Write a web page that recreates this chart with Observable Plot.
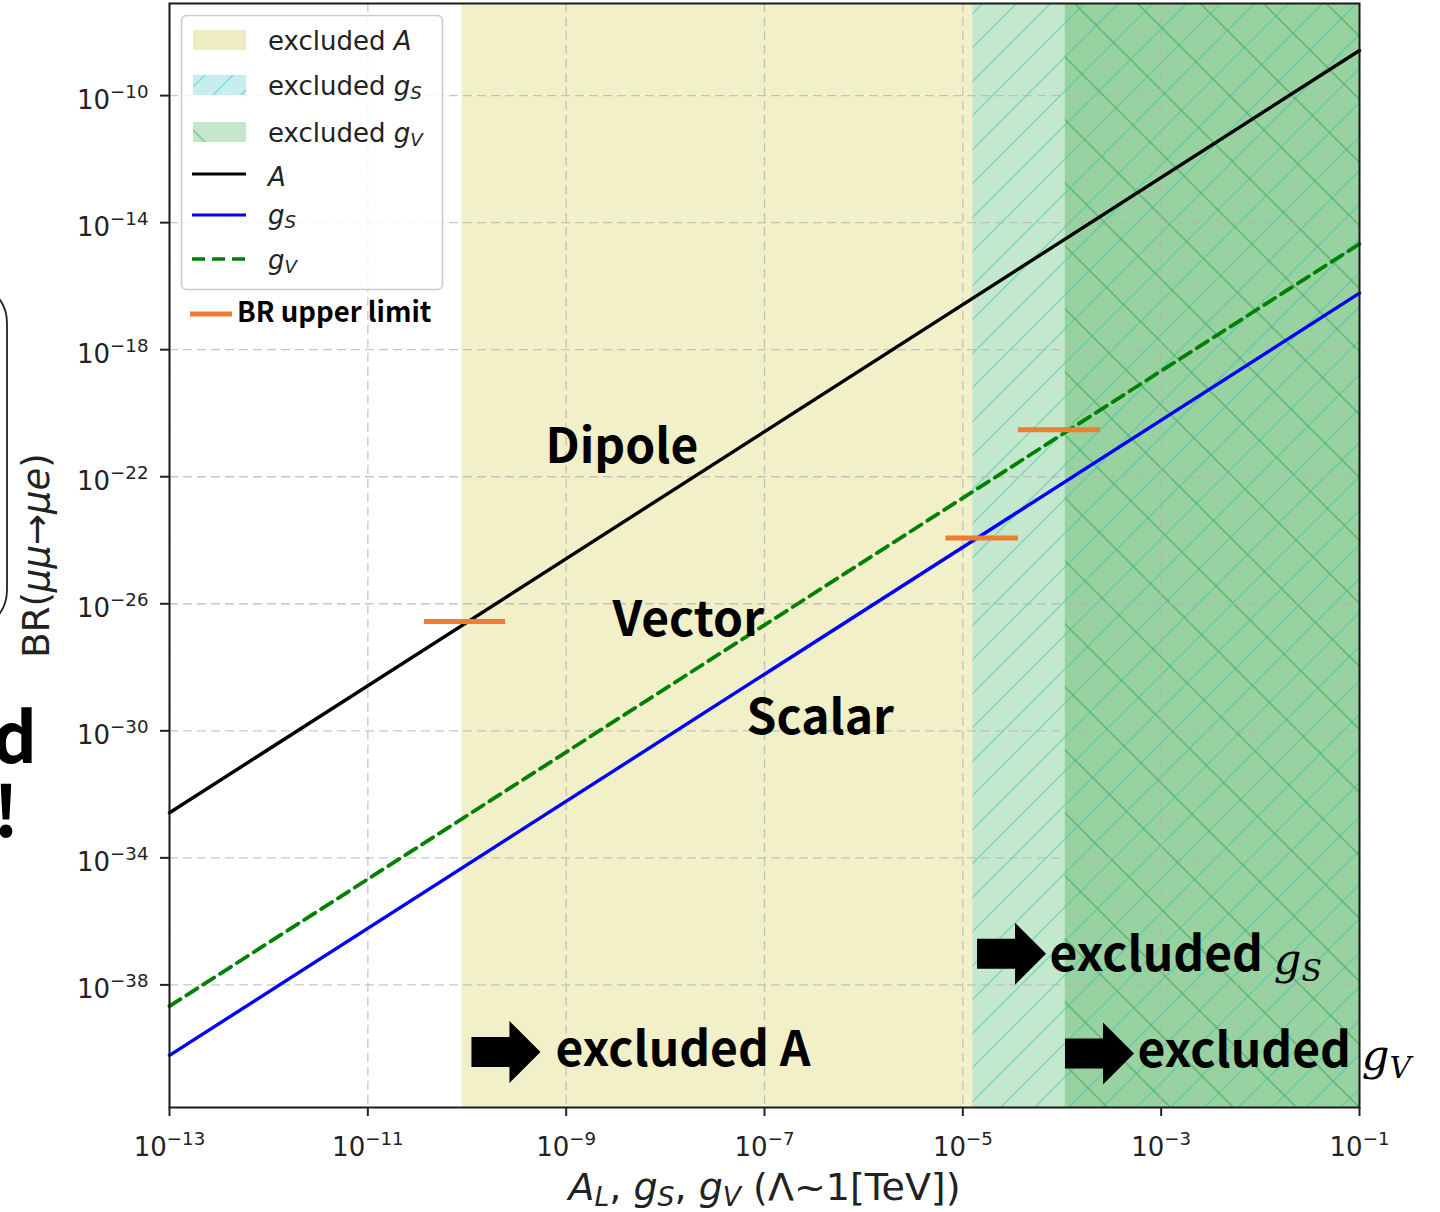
<!DOCTYPE html>
<html><head><meta charset="utf-8">
<script src="https://cdn.jsdelivr.net/npm/d3@7"></script>
<script src="https://cdn.jsdelivr.net/npm/@observablehq/plot@0.6"></script>
<style>
body{margin:0;background:#fff;}
#wrap{position:relative;width:1440px;height:1212px;overflow:hidden;background:#fff;}
#wrap > svg{position:absolute;left:0;top:0;}
</style></head><body><div id="wrap"></div>
<script>
// ---------------- data ----------------
const xEnds = [1e-13, 1e-1];
const brA  = [2.63e-33, 2.63e-9];
const brGS = [6.03e-41, 6.03e-17];
const brGV = [2.14e-39, 2.14e-15];

const regionName  = ["excluded A", "excluded gS", "excluded gV"];
const regionStart = [8.91e-11, 1.26e-5, 1.08e-4];
const regionEnd   = [1.26e-5, 1e-1, 1e-1];

const limitX1 = [3.72e-11, 6.76e-6, 3.63e-5];
const limitX2 = [2.45e-10, 3.63e-5, 2.45e-4];
const limitBR = [2.75e-27, 1.17e-24, 3.02e-21];

const xTicks = [1e-13, 1e-11, 1e-9, 1e-7, 1e-5, 1e-3, 1e-1];
const xTickLabels = ["10^{−13}", "10^{−11}", "10^{−9}", "10^{−7}", "10^{−5}", "10^{−3}", "10^{−1}"];
const yTicks = [1e-10, 1e-14, 1e-18, 1e-22, 1e-26, 1e-30, 1e-34, 1e-38];
const yTickLabels = ["10^{−10}", "10^{−14}", "10^{−18}", "10^{−22}", "10^{−26}", "10^{−30}", "10^{−34}", "10^{−38}"];
const yDomain = [1.38e-42, 7.94e-8];

const xLabel = "*{A}_{L}, *{g}_{S}, *{g}_{V} (Λ~1[TeV])";
const yLabel = "BR(*{μμ}→*{μe})";

const labelText = ["Dipole", "Vector", "Scalar"];
const labelX  = [6.18e-10, 2.93e-9, 6.58e-8];
const labelBR = [2.75e-22, 9.77e-28, 8.13e-31];

const exclText = ["excluded A", "excluded %{g}&{S}", "excluded %{g}&{V}"];
const exclX  = [7.80e-10, 7.48e-5, 5.77e-4];
const exclBR = [2.82e-41, 2.75e-38, 2.51e-41];
const arrowX  = [2.47e-10, 3.10e-5, 2.39e-4];
const arrowBR = [7.76e-41, 9.55e-38, 6.92e-41];

const legendText = ["excluded *{A}", "excluded *{g}_{S}", "excluded *{g}_{V}", "*{A}", "*{g}_{S}", "*{g}_{V}"];
const limitLegendText = "BR upper limit";

// ------------- tables built from arrays -------------
const lineA  = xEnds.map((x, i) => ({x, br: brA[i]}));
const lineGS = xEnds.map((x, i) => ({x, br: brGS[i]}));
const lineGV = xEnds.map((x, i) => ({x, br: brGV[i]}));
const regions = regionName.map((name, i) => ({name, x1: regionStart[i], x2: regionEnd[i]}));
const limits = limitBR.map((br, i) => ({x1: limitX1[i], x2: limitX2[i], br}));
const labels = labelText.map((t, i) => ({t, x: labelX[i], br: labelBR[i]}));
const excl = exclText.map((t, i) => ({t, x: exclX[i], br: exclBR[i]}));
const arrows = arrowX.map((x, i) => ({x, br: arrowBR[i]}));

const arrowSymbol = {
  draw(ctx) {
    ctx.moveTo(-34.5, -15); ctx.lineTo(3.5, -15); ctx.lineTo(3.5, -31);
    ctx.lineTo(34.5, 0); ctx.lineTo(3.5, 31); ctx.lineTo(3.5, 15);
    ctx.lineTo(-34.5, 15); ctx.closePath();
  }
};

const JP = "'Noto Sans CJK JP', 'Noto Sans', sans-serif";
const gridOpts = {stroke: "#b4b4b4", strokeOpacity: 0.75, strokeDasharray: "9,5", strokeWidth: 1.3};

const chart = Plot.plot({
  width: 1440, height: 1212,
  marginLeft: 169, marginRight: 81, marginTop: 3, marginBottom: 105,
  x: {type: "log", domain: [1e-13, 1e-1]},
  y: {type: "log", domain: yDomain},
  style: {fontFamily: "'DejaVu Sans', sans-serif", fontSize: "26px", color: "#222", background: "transparent", overflow: "visible"},
  marks: [
    Plot.rect([regions[0]], {x1: "x1", x2: "x2", fill: "#F1F0C8"}),
    Plot.rect([regions[1]], {x1: "x1", x2: "x2", fill: "#C3E8CD"}),
    Plot.rect([regions[2]], {x1: "x1", x2: "x2", fill: "#97D2A0"}),
    Plot.rect([regions[1]], {x1: "x1", x2: "x2", fill: "url(#hatchS)"}),
    Plot.rect([regions[2]], {x1: "x1", x2: "x2", fill: "url(#hatchV)"}),
    Plot.gridX({ticks: xTicks, ...gridOpts}),
    Plot.gridY({ticks: yTicks, ...gridOpts}),
    Plot.line(lineA, {x: "x", y: "br", stroke: "#000", strokeWidth: 3.4}),
    Plot.line(lineGV, {x: "x", y: "br", stroke: "#008000", strokeWidth: 3.8, strokeDasharray: "13,7"}),
    Plot.line(lineGS, {x: "x", y: "br", stroke: "#0000ff", strokeWidth: 3.4}),
    Plot.ruleY(limits, {y: "br", x1: "x1", x2: "x2", stroke: "#ED7D31", strokeWidth: 5}),
    Plot.text(labels, {x: "x", y: "br", text: "t", textAnchor: "start", lineAnchor: "bottom",
      fontFamily: JP, fontWeight: "bold", fontSize: 48, fill: "#000"}),
    Plot.dot(arrows, {x: "x", y: "br", symbol: arrowSymbol, r: 1, fill: "#000", stroke: "none"}),
    Plot.text(excl, {x: "x", y: "br", text: "t", textAnchor: "start", lineAnchor: "bottom",
      fontFamily: JP, fontWeight: "bold", fontSize: 48, fill: "#000"}),
    Plot.frame({stroke: "#1a1a1a", strokeWidth: 2}),
    Plot.axisX({ticks: xTicks, tickSize: 9, tickFormat: () => "", label: null, strokeWidth: 2, stroke: "#222"}),
    Plot.axisY({ticks: yTicks, tickSize: 9, tickFormat: () => "", label: null, strokeWidth: 2, stroke: "#222"}),
    Plot.text(xTicks, {x: d => d, text: (d, i) => xTickLabels[i], frameAnchor: "bottom", dy: 48,
      textAnchor: "middle", lineAnchor: "bottom", fontSize: 26, fill: "#222"}),
    Plot.text(yTicks, {y: d => d, text: (d, i) => yTickLabels[i], frameAnchor: "left", dx: -21, dy: 13,
      textAnchor: "end", lineAnchor: "bottom", fontSize: 26, fill: "#222"}),
    Plot.text([xLabel], {text: d => d, frameAnchor: "bottom", dy: 92, textAnchor: "middle", lineAnchor: "bottom", fontSize: 38, fill: "#222"}),
    Plot.text([yLabel], {text: d => d, frameAnchor: "left", dx: -121, rotate: -90, textAnchor: "middle", lineAnchor: "bottom", fontSize: 37, fill: "#222"})
  ]
});

const wrap = document.getElementById("wrap");
wrap.appendChild(chart);

const NS = "http://www.w3.org/2000/svg";
// hatch patterns
const defs = document.createElementNS(NS, "defs");
defs.innerHTML = `
<pattern id="hatchS" patternUnits="userSpaceOnUse" width="34" height="34">
  <path d="M-4,4 L4,-4 M0,34 L34,0 M30,38 L38,30" stroke="#30c4b0" stroke-opacity="0.4" stroke-width="1.6" fill="none"/>
</pattern>
<pattern id="hatchV" patternUnits="userSpaceOnUse" width="63" height="63">
  <path d="M-4,59 L4,67 M0,0 L63,63 M59,-4 L67,4" stroke="#2f9a45" stroke-opacity="0.45" stroke-width="1.6" fill="none"/>
</pattern>
<pattern id="lhS" patternUnits="userSpaceOnUse" width="28" height="28">
  <path d="M-4,4 L4,-4 M0,28 L28,0 M24,32 L32,24" stroke="#6fd6d6" stroke-opacity="0.8" stroke-width="1.5" fill="none"/>
</pattern>
<pattern id="lhV" patternUnits="userSpaceOnUse" width="63" height="63">
  <path d="M-4,59 L4,67 M0,0 L63,63 M59,-4 L67,4" stroke="#6fb87a" stroke-opacity="0.8" stroke-width="1.5" fill="none"/>
</pattern>`;
chart.insertBefore(defs, chart.firstChild);

// overlay: legend and slide fragments
const overlay = document.createElementNS(NS, "svg");
overlay.setAttribute("width", 1440);
overlay.setAttribute("height", 1212);
overlay.setAttribute("font-family", "'DejaVu Sans', sans-serif");
overlay.innerHTML = `
<rect x="181.5" y="15.5" width="261" height="274" rx="5" fill="#fff" fill-opacity="0.82" stroke="#cccccc" stroke-width="1.5"/>
<rect x="193" y="30" width="53" height="20" fill="#EEEDC2"/>
<rect x="193" y="75" width="53" height="20" fill="#C6EEEF"/>
<rect x="193" y="75" width="53" height="20" fill="url(#lhS)"/>
<rect x="193" y="122" width="53" height="20" fill="#C7E5C9"/>
<rect x="193" y="122" width="53" height="20" fill="url(#lhV)"/>
<line x1="192" x2="246" y1="174" y2="174" stroke="#000" stroke-width="3.2"/>
<line x1="192" x2="246" y1="215" y2="215" stroke="#0000ff" stroke-width="3.2"/>
<line x1="192" x2="246" y1="259" y2="259" stroke="#008000" stroke-width="3.6" stroke-dasharray="13,7"/>
<g font-size="26" fill="#222">
<text x="268" y="50">${legendText[0]}</text>
<text x="268" y="95">${legendText[1]}</text>
<text x="268" y="142">${legendText[2]}</text>
<text x="268" y="186">${legendText[3]}</text>
<text x="268" y="224">${legendText[4]}</text>
<text x="268" y="269">${legendText[5]}</text>
</g>
<line x1="190" x2="232" y1="314" y2="314" stroke="#ED7D31" stroke-width="5"/>
<text x="237" y="322" font-family="'Noto Sans CJK JP', sans-serif" font-weight="bold" font-size="27.5" fill="#000">${limitLegendText}</text>
<path d="M-34,281.7 A41.3 41.3 0 0 1 7,323 L7,590 A41.3 41.3 0 0 1 -34,631.3" fill="none" stroke="#222" stroke-width="1.8"/>
<g font-family="'Noto Sans CJK JP', sans-serif" font-weight="bold" font-size="70" fill="#000" text-anchor="end">
<text x="37" y="763">d</text>
<text x="19" y="837">!</text>
</g>`;
wrap.appendChild(overlay);

// rich text: ^{} superscript, _{} italic subscript, *{} italic, %{} serif italic, &{} serif italic subscript
function richify(root) {
  root.querySelectorAll("text").forEach(t => {
    const s = t.textContent;
    if (!/[\^_*%&]\{/.test(s)) return;
    const fs = parseFloat(getComputedStyle(t).fontSize);
    t.textContent = "";
    const re = /([\^_*%&])\{([^}]*)\}|([^\^_*%&{}]+)/g;
    let shift = 0, m;
    while ((m = re.exec(s))) {
      const ts = document.createElementNS(NS, "tspan");
      let target = 0, txt;
      if (m[1]) {
        txt = m[2];
        switch (m[1]) {
          case "^": target = -0.42 * fs; ts.setAttribute("font-size", 0.7 * fs); break;
          case "_": target = 0.17 * fs; ts.setAttribute("font-size", 0.7 * fs); ts.setAttribute("font-style", "italic"); break;
          case "*": ts.setAttribute("font-style", "italic"); break;
          case "%": target = 0.06 * fs; ts.setAttribute("font-size", 0.9 * fs); ts.setAttribute("font-style", "italic");
            ts.setAttribute("font-family", "'DejaVu Serif', serif"); ts.setAttribute("font-weight", "normal"); break;
          case "&": target = 0.21 * fs; ts.setAttribute("font-size", 0.62 * fs); ts.setAttribute("font-style", "italic");
            ts.setAttribute("font-family", "'DejaVu Serif', serif"); ts.setAttribute("font-weight", "normal"); break;
        }
      } else txt = m[3];
      const dy = target - shift;
      if (dy) ts.setAttribute("dy", dy.toFixed(2));
      shift = target;
      ts.textContent = txt;
      t.appendChild(ts);
    }
  });
}
richify(chart);
richify(overlay);
</script>
</body></html>
